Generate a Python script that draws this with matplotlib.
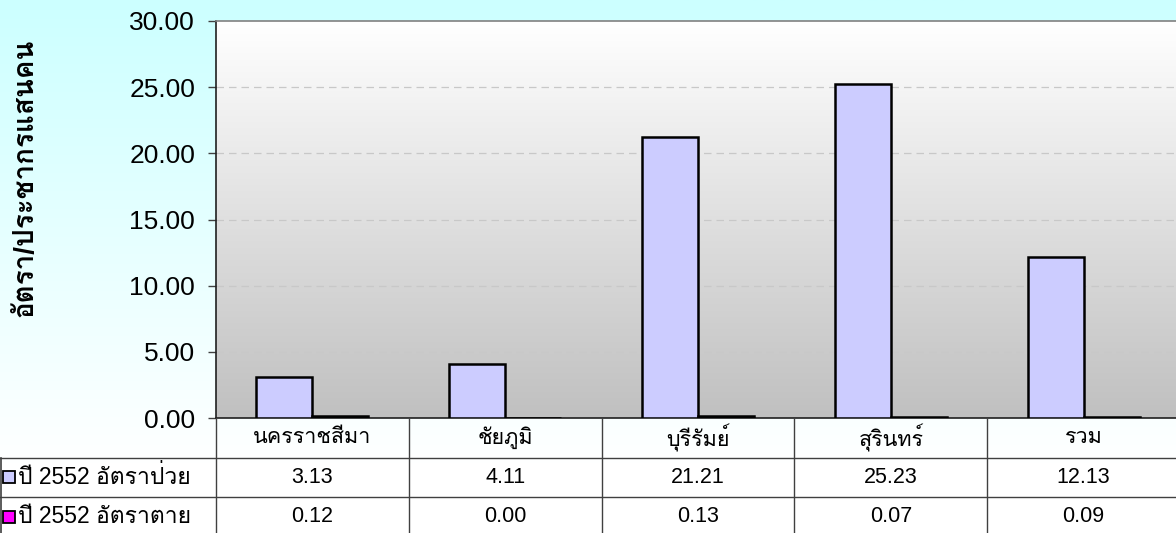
import numpy as np
import matplotlib
matplotlib.use("Agg")
import matplotlib.pyplot as plt
from matplotlib import font_manager
from matplotlib.ft2font import FT2Font

# data
provinces = ["นครราชสีมา", "ชัยภูมิ", "บุรีรัมย์", "สุรินทร์", "รวม"]
series_names = ["ปี 2552 อัตราป่วย", "ปี 2552 อัตราตาย"]
sick_rate = [3.13, 4.11, 21.21, 25.23, 12.13]
death_rate = [0.12, 0.00, 0.13, 0.07, 0.09]
yticks = [0, 5, 10, 15, 20, 25, 30]
ylabel = "อัตรา/ประชากรแสนคน"
colors = ["#CCCCFF", "#FF00FF"]


# find an installed font that has Thai glyphs, use it as fallback
def thai_font():
    for f in font_manager.fontManager.ttflist:
        try:
            if 0x0E01 in FT2Font(f.fname).get_charmap():
                return f.name
        except Exception:
            pass
    return None


fams = ["Liberation Sans"]
tf = thai_font()
if tf:
    fams.append(tf)
fams.append("DejaVu Sans")
plt.rcParams["font.family"] = fams

W, H = 1176, 533
fig = plt.figure(figsize=(W / 100, H / 100), dpi=100)

# background gradient of the whole figure (light cyan at top -> white)
bg = fig.add_axes([0, 0, 1, 1], zorder=-5)
grad = np.linspace(0, 1, 256).reshape(-1, 1)
top = np.array([204, 255, 255]) / 255
bot = np.array([255, 255, 255]) / 255
img = top + (bot - top) * np.clip(grad * 1.15, 0, 1)[:, :, None]
bg.imshow(img, aspect="auto", extent=[0, 1, 0, 1])
bg.set_xlim(0, 1)
bg.set_ylim(0, 1)
bg.axis("off")

# plot area (white at top -> silver at bottom)
left, right, ytop, ybot = 216, 1180, 21, 418
ax = fig.add_axes([left / W, 1 - ybot / H, (right - left) / W, (ybot - ytop) / H])
pa = np.array([255, 255, 255]) / 255 + (np.array([192, 192, 192]) - 255)[None, None, :] / 255 * grad[:, :, None]
ax.imshow(pa, aspect="auto", extent=[0, 1, 0, 1], transform=ax.transAxes, zorder=0)

x = np.arange(len(provinces))
bw = 0.29
ax.bar(x - bw / 2, sick_rate, bw, color=colors[0], edgecolor="black", linewidth=1.8, zorder=3)
ax.bar(x + bw / 2, death_rate, bw, color=colors[1], edgecolor="black", linewidth=1.8, zorder=3)

ax.set_xlim(-0.5, len(provinces) - 0.5)
ax.set_ylim(0, 30)
ax.set_yticks(yticks)
ax.set_yticklabels([f"{v:.2f}" for v in yticks], fontsize=19)
ax.set_xticks([])
ax.tick_params(axis="y", direction="out", length=6, width=1, pad=9, color="#404040")
for v in yticks[1:-1]:
    ax.axhline(v, color="#C8C8C8", linewidth=0.9, dashes=(6, 4), zorder=1)
ax.spines["left"].set_color("#202020")
ax.spines["left"].set_linewidth(1.2)
ax.spines["top"].set_color("#808080")
ax.spines["top"].set_linewidth(1.2)
ax.spines["right"].set_visible(False)
ax.spines["bottom"].set_color("#202020")
ax.spines["bottom"].set_linewidth(1.2)
ax.set_facecolor("none")

fig.text(25 / W, 1 - 178 / H, ylabel, rotation=90, ha="center", va="center",
         fontsize=20, fontweight="bold")

# data table underneath
cw = (right - left) / len(provinces)
tab = fig.add_axes([0, 0, right / W, (H - ybot) / H])
xl = -0.5 - left / cw
rh = 39.5
tab.set_xlim(xl, len(provinces) - 0.5)
tab.set_ylim((H - ybot) / rh, 0)
tab.axis("off")
lc = "#404040"
for k in range(len(provinces) + 1):
    tab.plot([k - 0.5, k - 0.5], [0, 3], color=lc, lw=1)
tab.plot([xl + 1 / cw, xl + 1 / cw], [1, 3], color=lc, lw=1.2)
for r in [1, 2]:
    tab.plot([xl, len(provinces) - 0.5], [r, r], color=lc, lw=1)

for i, p in enumerate(provinces):
    tab.text(i, 0.5, p, ha="center", va="center", fontsize=15.5)
    tab.text(i, 1.5, f"{sick_rate[i]:.2f}", ha="center", va="center", fontsize=15.5)
    tab.text(i, 2.5, f"{death_rate[i]:.2f}", ha="center", va="center", fontsize=15.5)

for r, (name, c) in enumerate(zip(series_names, colors)):
    tab.plot([xl + 9 / cw], [r + 1.5], marker="s", markersize=8.5, mfc=c, mec="black", mew=1.3)
    tab.text(xl + 18 / cw, r + 1.5, name, ha="left", va="center", fontsize=16.5)

fig.savefig("out.png", dpi=100)
